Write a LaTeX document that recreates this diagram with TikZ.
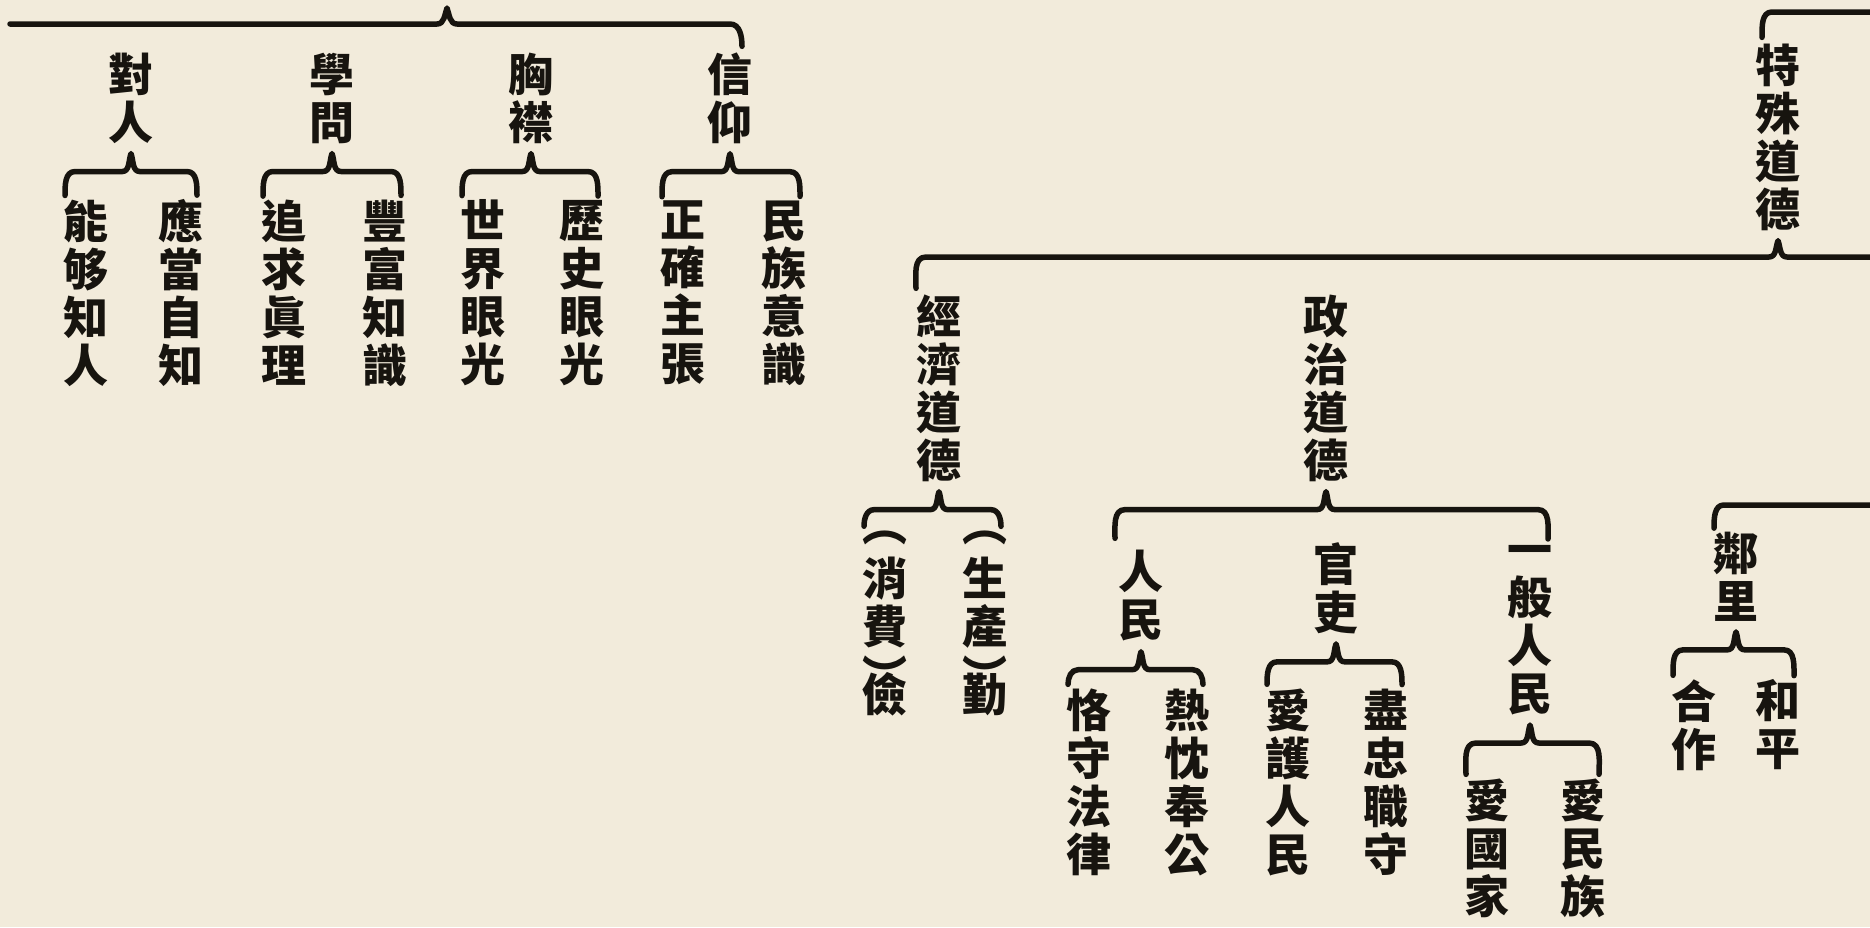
\documentclass[tikz,border=0pt]{standalone}
\usepackage{fontspec}
\newfontfamily\cjk{Noto Sans CJK TC}
\usetikzlibrary{calc}
\definecolor{paper}{HTML}{F2EBDB}
\definecolor{ink}{HTML}{17140F}
\tikzset{
  vt/.style={font=\cjk\bfseries\fontsize{45}{48}\selectfont, text=ink, align=center, inner sep=0pt},
  brk/.style={draw=ink, line width=5.5pt, line cap=round, line join=round},
}
% bracket: parent #1, left child #2, right child #3
\newcommand{\tbrace}[3]{%
  \draw[brk] let \p1=(#1.south), \p2=(#2.north), \p3=(#3.north) in
    (\x2-21pt,\y2+4pt) to[out=90,in=180] (\x2-11pt,\y1-28pt) -- (\x1-9pt,\y1-28pt)
    to[out=0,in=-110] (\x1,\y1-10pt) to[out=-70,in=180] (\x1+9pt,\y1-28pt)
    -- (\x3+6pt,\y1-28pt) to[out=0,in=90] (\x3+16pt,\y3+4pt);
}
\begin{document}
\begin{tikzpicture}[x=1pt,y=-1pt]
\fill[paper] (0,0) rectangle (1870,927);
\useasboundingbox (0,0) rectangle (1870,927);

% ---- left block ----
\node[vt] (duiren) at (131,98) {對\\人};
\node[vt] (xuewen) at (332,98) {學\\問};
\node[vt] (xiongjin) at (531,98) {胸\\襟};
\node[vt] (xinyang) at (730,98) {信\\仰};

\node[vt] (a1) at (86,293) {能\\够\\知\\人};
\node[vt] (a2) at (181,293) {應\\當\\自\\知};
\node[vt] (b1) at (284,293) {追\\求\\眞\\理};
\node[vt] (b2) at (385,293) {豐\\富\\知\\識};
\node[vt] (c1) at (483,293) {世\\界\\眼\\光};
\node[vt] (c2) at (582,293) {歷\\史\\眼\\光};
\node[vt] (d1) at (683,293) {正\\確\\主\\張};
\node[vt] (d2) at (784,293) {民\\族\\意\\識};

\coordinate (topL) at (10,24);
\coordinate (topP) at (447,8);
\draw[brk] let \p1=(topL), \p2=(topP), \p3=(xinyang.north) in
  (topL) -- (\x2-10pt,\y1) to[out=0,in=-110] (topP) to[out=-70,in=180] (\x2+10pt,\y1)
  -- (\x3,\y1) to[out=0,in=90] (\x3+12pt,\y3+6pt);

\tbrace{duiren}{a1}{a2}
\tbrace{xuewen}{b1}{b2}
\tbrace{xiongjin}{c1}{c2}
\tbrace{xinyang}{d1}{d2}

% ---- right block ----
\node[vt] (teshu) at (1778,137) {特\\殊\\道\\德};
\node[vt] (jingji) at (939,388) {經\\濟\\道\\德};
\node[vt] (zhengzhi) at (1326,388) {政\\治\\道\\德};

\coordinate (edgeA) at (1870,12);
\coordinate (edgeB) at (1870,257);
\coordinate (edgeC) at (1870,505);

\draw[brk] let \p1=(teshu.north), \p2=(edgeA) in
  (edgeA) -- (\x1-6pt,\y2) to[out=180,in=90] (\x1-16pt,\y1+6pt);
\draw[brk] let \p1=(teshu.south), \p2=(jingji.north), \p3=(edgeB) in
  (\x2-23pt,\y2+6pt) to[out=90,in=180] (\x2-13pt,\y3) -- (\x1-9pt,\y3)
  to[out=0,in=-110] (\x1,\y1-10pt) to[out=-70,in=180] (\x1+9pt,\y3) -- (edgeB);

\node[vt] (xiao) at (885,623) {︵\\[6pt]消\\費\\[2pt]︶\\[-30pt]儉};
\node[vt] (sheng) at (985,623) {︵\\[6pt]生\\產\\[2pt]︶\\[-30pt]勤};
\tbrace{jingji}{xiao}{sheng}

\node[vt] (renmin) at (1141,596) {人\\民};
\node[vt] (guanli) at (1336,588) {官\\吏};
\node[vt] (yiban) at (1530,630) {一\\般\\人\\民};

\draw[brk] let \p1=(zhengzhi.south), \p2=(renmin.north), \p3=(yiban.north) in
  (\x2-26pt,\y2+12pt) to[out=90,in=180] (\x2-16pt,\y1-28pt) -- (\x1-9pt,\y1-28pt)
  to[out=0,in=-110] (\x1,\y1-10pt) to[out=-70,in=180] (\x1+9pt,\y1-28pt)
  -- (\x3+8pt,\y1-28pt) to[out=0,in=90] (\x3+18pt,\y3+6pt);

\node[vt] (e1) at (1089,782) {恪\\守\\法\\律};
\node[vt] (e2) at (1187,782) {熱\\忱\\奉\\公};
\node[vt] (f1) at (1288,782) {愛\\護\\人\\民};
\node[vt] (f2) at (1386,782) {盡\\忠\\職\\守};
\tbrace{renmin}{e1}{e2}
\tbrace{guanli}{f1}{f2}

\node[vt] (g1) at (1487,848) {愛\\國\\家};
\node[vt] (g2) at (1583,848) {愛\\民\\族};
\tbrace{yiban}{g1}{g2}

\node[vt] (linli) at (1736,577) {鄰\\里};
\draw[brk] let \p1=(linli.north), \p2=(edgeC) in
  (edgeC) -- (\x1-12pt,\y2) to[out=180,in=90] (\x1-22pt,\y1+4pt);
\node[vt] (h1) at (1694,725) {合\\作};
\node[vt] (h2) at (1778,725) {和\\平};
\tbrace{linli}{h1}{h2}
\end{tikzpicture}
\end{document}
